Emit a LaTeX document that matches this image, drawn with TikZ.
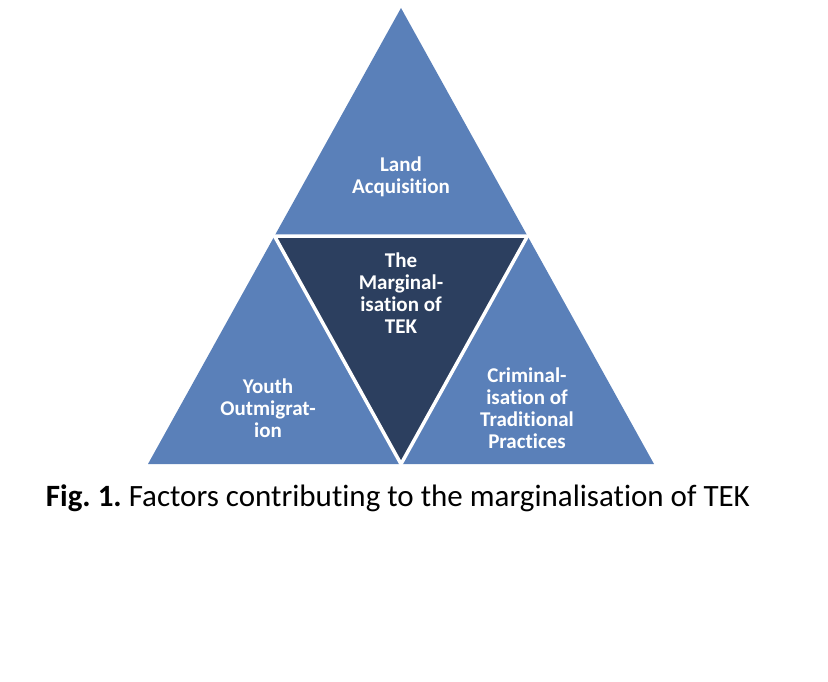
\documentclass[tikz,border=0pt]{standalone}
\usepackage{fontspec}
\setmainfont[Ligatures=NoCommon]{Carlito}
\definecolor{lightb}{HTML}{5A80B9}
\definecolor{darkb}{HTML}{2C3F5F}
\frenchspacing
\begin{document}
\begin{tikzpicture}[x=1pt,y=-1pt,
  lbl/.style={text=white,font=\fontsize{21}{22}\selectfont\bfseries,align=center,inner sep=0pt},
  capt/.style={font=\fontsize{31}{36}\selectfont,inner sep=0pt,anchor=base}]
\useasboundingbox (0,0) rectangle (828,682);
\coordinate (A) at (401,8);
\coordinate (L) at (148,464);
\coordinate (R) at (654,464);
\coordinate (ML) at (274.5,236);
\coordinate (MR) at (527.5,236);
\coordinate (MB) at (401,464);
\fill[lightb] (A) -- (L) -- (R) -- cycle;
\draw[white,line width=3.5pt,fill=darkb,line join=miter] (ML) -- (MR) -- (MB) -- cycle;
\node[lbl] (land) at (401,177) {Land\\Acquisition};
\node[lbl] (tek) at (401,293) {The\\Marginal-\\isation of\\TEK};
\node[lbl] (youth) at (268,408) {Youth\\Outmigrat-\\ion};
\node[lbl] (crim) at (527,408) {Criminal-\\isation of\\Traditional\\Practices};
\node[capt] (cap) at (398,506.5) {\textbf{Fig. 1.} Factors contributing to the marginalisation of TEK};
\end{tikzpicture}
\end{document}
